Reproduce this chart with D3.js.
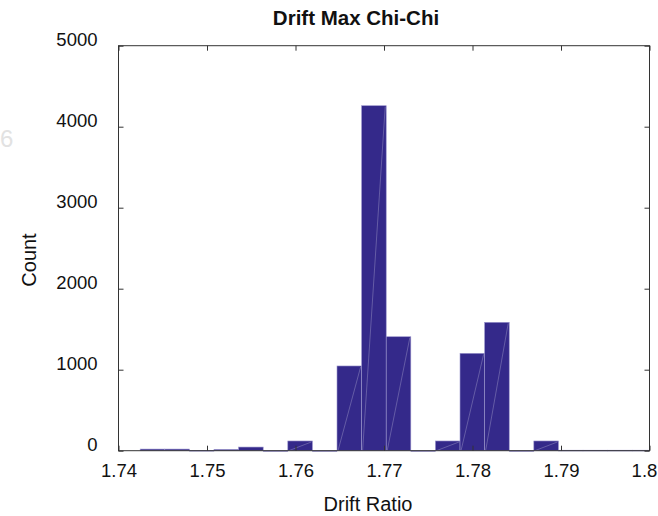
<!DOCTYPE html>
<html>
<head>
<meta charset="utf-8">
<script src="https://cdn.jsdelivr.net/npm/d3@7"></script>
<style>
  body { margin: 0; background: #fff; }
  svg text { font-family: "Liberation Sans", Arial, sans-serif; fill: #111; }
</style>
</head>
<body>
<div id="chart"></div>
<script>
// data
var binStart = 1.74245;
var binWidth = 0.00278;
var counts = [20, 20, 4, 16, 45, 0, 120, 0, 1046, 4259, 1407, 0, 120, 1202, 1585, 0, 120, 6, 6, 6, 6];
var xTicks = [1.74, 1.75, 1.76, 1.77, 1.78, 1.79, 1.8];
var yTicks = [0, 1000, 2000, 3000, 4000, 5000];

//styles
var width = 658, height = 516;
var plotLeft = 118.5, plotRight = 649.5, plotTop = 45.7, plotBottom = 450.7;
var barColor = "#34298a";
var barEdge = "#9a94cc";
var axisColor = "#333";
var tickLen = 5;
var tickFont = "18.5px";
var labelFont = "20px";

var bins = counts.map(function (c, i) {
  return { x0: binStart + i * binWidth, x1: binStart + (i + 1) * binWidth, n: c };
});

var svg = d3.select("#chart").append("svg")
  .attr("width", width)
  .attr("height", height);

var x = d3.scaleLinear().domain([1.74, 1.8]).range([plotLeft, plotRight]);
var y = d3.scaleLinear().domain([0, 5000]).range([plotBottom, plotTop]);

svg.append("clipPath").attr("id", "plotClip")
  .append("rect")
  .attr("x", plotLeft).attr("y", plotTop)
  .attr("width", plotRight - plotLeft).attr("height", plotBottom - plotTop + 1);

// faint stray glyph at the left edge
svg.append("text")
  .attr("x", 0).attr("y", 147)
  .style("font-size", "24px")
  .style("fill", "#cfcfcf")
  .style("opacity", 0.6)
  .text("6");

var barG = svg.append("g").attr("clip-path", "url(#plotClip)");

barG.selectAll("rect.bar")
  .data(bins)
  .enter().append("rect")
  .attr("class", "bar")
  .attr("x", function (d) { return x(d.x0); })
  .attr("y", function (d) { return y(d.n); })
  .attr("width", function (d) { return x(d.x1) - x(d.x0); })
  .attr("height", function (d) { return Math.max(0.8, y(0) - y(d.n)); })
  .attr("fill", barColor)
  .attr("stroke", barEdge)
  .attr("stroke-width", 0.6);

// seams left by the triangulated fill
barG.selectAll("line.seam")
  .data(bins.filter(function (d) { return d.n > 60; }))
  .enter().append("line")
  .attr("class", "seam")
  .attr("x1", function (d) { return x(d.x0) + 1; })
  .attr("y1", y(0))
  .attr("x2", function (d) { return x(d.x1) - 1; })
  .attr("y2", function (d) { return y(d.n) + 1; })
  .attr("stroke", "#ffffff")
  .attr("stroke-opacity", 0.3)
  .attr("stroke-width", 0.8);

// axes box
svg.append("rect")
  .attr("x", plotLeft).attr("y", plotTop)
  .attr("width", plotRight - plotLeft).attr("height", plotBottom - plotTop)
  .attr("fill", "none")
  .attr("stroke", axisColor)
  .attr("stroke-width", 1);

var xBottom = d3.axisBottom(x).tickValues(xTicks).tickSize(-tickLen).tickPadding(13.5)
  .tickFormat(function (d) { return d3.format(".2~f")(d); });
var gx = svg.append("g").attr("transform", "translate(0," + plotBottom + ")").call(xBottom);
gx.select(".domain").remove();
gx.selectAll("line").attr("stroke", axisColor);
gx.selectAll("text").style("font-size", tickFont);
gx.selectAll("text").filter(function (d) { return d === 1.8; }).attr("dx", "-0.3em");

var xTop = d3.axisTop(x).tickValues(xTicks).tickSize(-tickLen).tickFormat("");
var gxt = svg.append("g").attr("transform", "translate(0," + plotTop + ")").call(xTop);
gxt.select(".domain").remove();
gxt.selectAll("line").attr("stroke", axisColor);

var yLeft = d3.axisLeft(y).tickValues(yTicks).tickSize(-tickLen).tickPadding(21)
  .tickFormat(d3.format("d"));
var gy = svg.append("g").attr("transform", "translate(" + plotLeft + ",0)").call(yLeft);
gy.select(".domain").remove();
gy.selectAll("line").attr("stroke", axisColor);
gy.selectAll("text").style("font-size", tickFont).attr("dy", "0.0em");

var yRight = d3.axisRight(y).tickValues(yTicks).tickSize(-tickLen).tickFormat("");
var gyr = svg.append("g").attr("transform", "translate(" + plotRight + ",0)").call(yRight);
gyr.select(".domain").remove();
gyr.selectAll("line").attr("stroke", axisColor);

// labels
svg.append("text")
  .attr("x", 356).attr("y", 25)
  .attr("text-anchor", "middle")
  .style("font-size", "20.5px")
  .style("font-weight", "bold")
  .text("Drift Max Chi-Chi");

svg.append("text")
  .attr("x", 368).attr("y", 511)
  .attr("text-anchor", "middle")
  .style("font-size", labelFont)
  .text("Drift Ratio");

svg.append("text")
  .attr("transform", "translate(36,260) rotate(-90)")
  .attr("text-anchor", "middle")
  .style("font-size", labelFont)
  .text("Count");
</script>
</body>
</html>
